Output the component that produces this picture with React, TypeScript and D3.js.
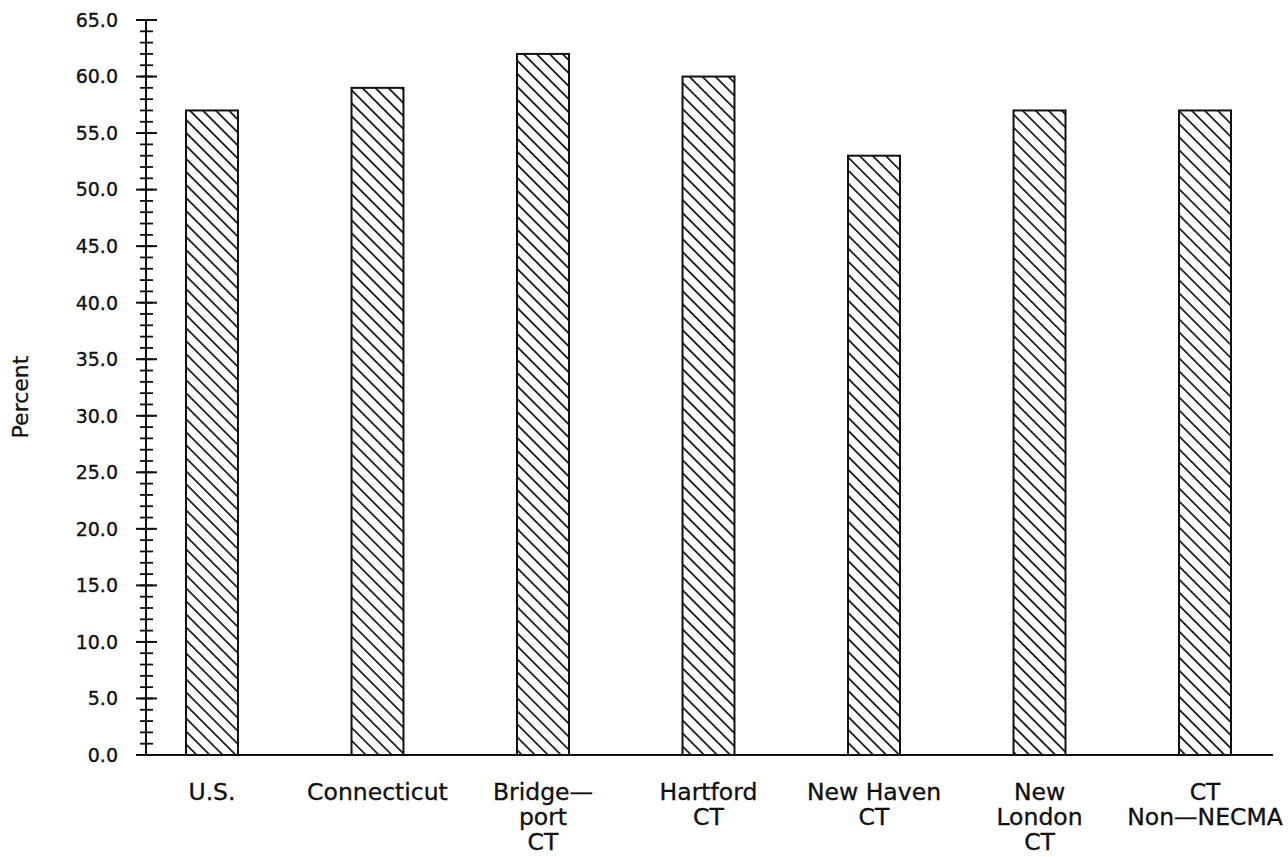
import React from "react";
import * as d3 from "d3";

const categories: string[][] = [
  ["U.S."],
  ["Connecticut"],
  ["Bridge\u2014", "port", "CT"],
  ["Hartford", "CT"],
  ["New Haven", "CT"],
  ["New", "London", "CT"],
  ["CT", "Non\u2014NECMA"],
];
const values: number[] = [57, 59, 62, 60, 53, 57, 57];
const yMajorTicks: number[] = [0, 5, 10, 15, 20, 25, 30, 35, 40, 45, 50, 55, 60, 65];
const yMinorTicks: number[] = d3.range(0, 66, 1);

const W = 1288;
const H = 857;
const FONT = "'DejaVu Sans', sans-serif";

export default function App() {
  const keys = categories.map((_, i) => String(i));
  const y = d3.scaleLinear().domain([0, 65]).range([755, 20]);
  const x = d3
    .scaleBand<string>()
    .domain(keys)
    .range([103.25, 1313.75])
    .paddingInner(0.686)
    .paddingOuter(0.5);
  const axisX = 146;

  return (
    <svg
      width={W}
      height={H}
      style={{ position: "absolute", left: 0, top: 0, background: "#fff" }}
    >
      <defs>
        <pattern
          id="hatch"
          patternUnits="userSpaceOnUse"
          width={9.2}
          height={9.2}
          patternTransform="rotate(-45)"
        >
          <rect width={9.2} height={9.2} fill="#fff" />
          <line x1={0} y1={0} x2={0} y2={9.2} stroke="#111" strokeWidth={3.4} />
        </pattern>
      </defs>

      {/* bars */}
      {values.map((v, i) => (
        <rect
          key={i}
          x={x(keys[i])!}
          y={y(v)}
          width={x.bandwidth()}
          height={y(0) - y(v)}
          fill="url(#hatch)"
          stroke="#111"
          strokeWidth={2}
        />
      ))}

      {/* y axis */}
      <line x1={axisX} x2={axisX} y1={y(65)} y2={y(0)} stroke="#111" strokeWidth={2} />
      {yMinorTicks.map((t) => (
        <line
          key={"m" + t}
          x1={axisX - 6}
          x2={axisX + 7}
          y1={y(t)}
          y2={y(t)}
          stroke="#111"
          strokeWidth={1.8}
        />
      ))}
      {yMajorTicks.map((t) => (
        <g key={"M" + t}>
          <line
            x1={axisX - 10}
            x2={axisX + 11}
            y1={y(t)}
            y2={y(t)}
            stroke="#111"
            strokeWidth={2}
          />
          <text
            x={118}
            y={y(t)}
            dy="0.36em"
            textAnchor="end"
            fontFamily={FONT}
            fontSize={19}
            fill="#111"
            stroke="#111"
            strokeWidth={0.35}
          >
            {t.toFixed(1)}
          </text>
        </g>
      ))}

      {/* x axis */}
      <line x1={136} x2={1273} y1={y(0)} y2={y(0)} stroke="#111" strokeWidth={2} />
      {categories.map((lines, i) => (
        <text
          key={"c" + i}
          x={x(keys[i])! + x.bandwidth() / 2}
          y={800}
          textAnchor="middle"
          fontFamily={FONT}
          fontSize={23.5}
          fill="#111"
          stroke="#111"
          strokeWidth={0.35}
        >
          {lines.map((l, j) => (
            <tspan key={j} x={x(keys[i])! + x.bandwidth() / 2} dy={j === 0 ? 0 : 25}>
              {l}
            </tspan>
          ))}
        </text>
      ))}

      {/* y title */}
      <text
        transform="translate(28,397) rotate(-90)"
        textAnchor="middle"
        fontFamily={FONT}
        fontSize={22}
        fill="#111"
        stroke="#111"
        strokeWidth={0.3}
      >
        Percent
      </text>
    </svg>
  );
}
